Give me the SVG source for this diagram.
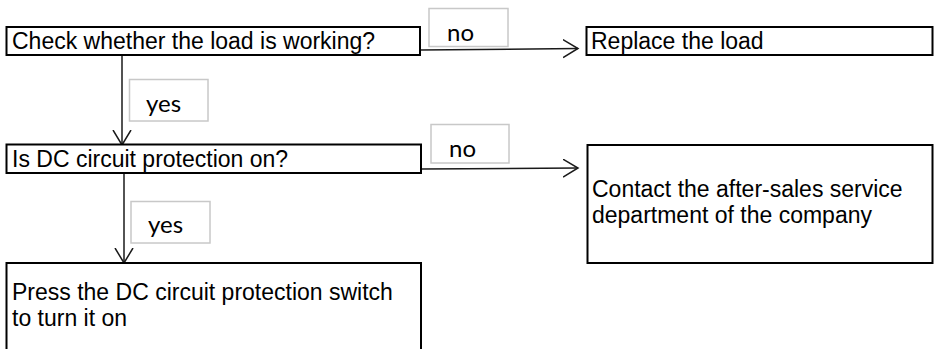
<svg xmlns="http://www.w3.org/2000/svg" width="938" height="349" viewBox="0 0 938 349">
<style>
  .box { fill: #ffffff; stroke: #000000; stroke-width: 2; }
  .lbl { fill: #ffffff; stroke: #c8c8c8; stroke-width: 1.5; }
  .t { font-family: "Liberation Sans", Arial, sans-serif; font-size: 23px; fill: #000000; }
  .lt { font-family: Lato, "Open Sans", sans-serif; font-size: 24px; fill: #000000; }
  .conn { fill: none; stroke: #1a1a1a; stroke-width: 1.5; }
</style>
<defs>
  <marker id="arr" markerUnits="userSpaceOnUse" markerWidth="20" markerHeight="22" refX="15" refY="9.5" orient="auto">
    <path d="M0,0.5 L15,9.5 L0,18.5" fill="none" stroke="#1a1a1a" stroke-width="1.5"/>
  </marker>
</defs>
<rect width="938" height="349" fill="#ffffff"/>

<g id="connectors">
  <path class="conn" d="M420,50 L578,48.5" marker-end="url(#arr)"/>
  <path class="conn" d="M122,55 L122,145" marker-end="url(#arr)"/>
  <path class="conn" d="M421,169 L578,168" marker-end="url(#arr)"/>
  <path class="conn" d="M124,173 L124,263" marker-end="url(#arr)"/>
</g>

<g id="node-check">
  <rect class="box" x="6.5" y="27" width="413.5" height="28"/>
  <text class="t" x="12" y="48.5">Check whether the load is working?</text>
</g>
<g id="label-no1">
  <rect class="lbl" x="429" y="8.5" width="79" height="38"/>
  <text class="lt" x="447" y="40.5">no</text>
</g>
<g id="node-replace">
  <rect class="box" x="586.5" y="27" width="346" height="28"/>
  <text class="t" x="591" y="48.5">Replace the load</text>
</g>
<g id="label-yes1">
  <rect class="lbl" x="129.5" y="79.5" width="78.5" height="41.5"/>
  <text class="lt" x="146" y="112">yes</text>
</g>
<g id="node-dc">
  <rect class="box" x="6.5" y="144.5" width="414.5" height="28.5"/>
  <text class="t" x="12" y="166.5">Is DC circuit protection on?</text>
</g>
<g id="label-no2">
  <rect class="lbl" x="431" y="124.5" width="78" height="38.5"/>
  <text class="lt" x="449" y="157">no</text>
</g>
<g id="node-contact">
  <rect class="box" x="587.5" y="145" width="345" height="118"/>
  <text class="t" x="592" y="197">Contact the after-sales service</text>
  <text class="t" x="592" y="223">department of the company</text>
</g>
<g id="label-yes2">
  <rect class="lbl" x="131" y="201.5" width="79" height="41.5"/>
  <text class="lt" x="148" y="233">yes</text>
</g>
<g id="node-press">
  <rect class="box" x="6.5" y="263" width="414.5" height="100"/>
  <text class="t" x="12" y="300">Press the DC circuit protection switch</text>
  <text class="t" x="12" y="326">to turn it on</text>
</g>
</svg>
